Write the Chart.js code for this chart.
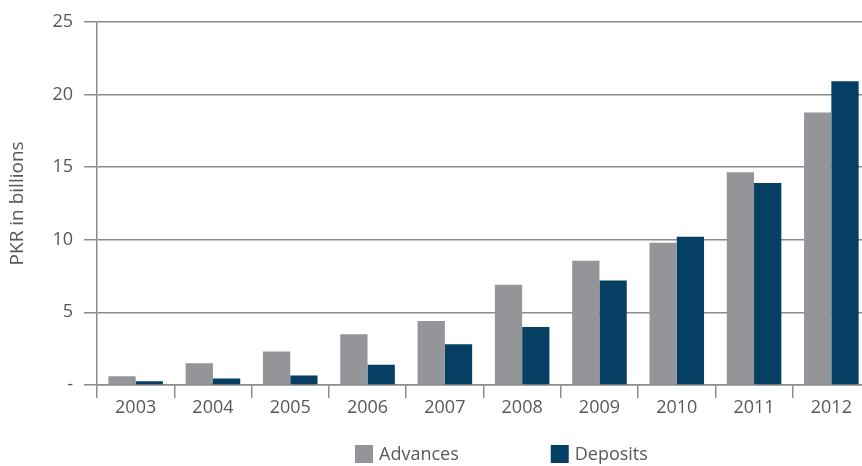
<!DOCTYPE html>
<html>
<head>
<meta charset="utf-8">
<script src="https://cdn.jsdelivr.net/npm/chart.js@4/dist/chart.umd.min.js"></script>
<style>
  html, body { margin: 0; padding: 0; background: #ffffff; overflow: hidden; }
  #wrap { width: 870px; height: 466px; }
</style>
</head>
<body>
<div id="wrap"><canvas id="c" width="870" height="466"></canvas></div>
<script>
// ---- data ----
const years = ['2003', '2004', '2005', '2006', '2007', '2008', '2009', '2010', '2011', '2012'];
const advances = [0.6, 1.5, 2.3, 3.5, 4.4, 6.9, 8.55, 9.8, 14.65, 18.75];
const deposits = [0.25, 0.45, 0.65, 1.4, 2.8, 4.0, 7.2, 10.2, 13.9, 20.9];
const yTicks = [0, 5, 10, 15, 20, 25];
const yTickLabels = ['-', '5', '10', '15', '20', '25'];
const seriesNames = ['Advances', 'Deposits'];
const yTitle = 'PKR in billions';

// ---- styles ----
const GRAY = '#939598';
const NAVY = '#053f64';
const LINE = '#8c8c8c';
const TEXT = '#58595b';
const FONT = "'Open Sans', 'Noto Sans', sans-serif";

const legendPlugin = {
  id: 'bottomLegend',
  afterDraw(chart) {
    const ctx = chart.ctx;
    const box = 18, gap = 6, itemGap = 92;
    const y = 445;
    let x = 355;
    ctx.save();
    ctx.font = '18px ' + FONT;
    ctx.textBaseline = 'middle';
    ctx.textAlign = 'left';
    chart.data.datasets.forEach(ds => {
      ctx.fillStyle = ds.backgroundColor;
      ctx.fillRect(x, y, box, box);
      ctx.fillStyle = TEXT;
      ctx.fillText(ds.label, x + box + gap, y + box / 2 + 1);
      x += box + gap + ctx.measureText(ds.label).width + itemGap;
    });
    ctx.restore();
  }
};

new Chart(document.getElementById('c'), {
  type: 'bar',
  data: {
    labels: years,
    datasets: [
      { label: seriesNames[0], data: advances, backgroundColor: GRAY, borderWidth: 0 },
      { label: seriesNames[1], data: deposits, backgroundColor: NAVY, borderWidth: 0 }
    ]
  },
  options: {
    responsive: false,
    animation: false,
    devicePixelRatio: 1,
    layout: { padding: { top: 14, right: 0, bottom: 41, left: 0 } },
    datasets: { bar: { categoryPercentage: 0.706, barPercentage: 1.0 } },
    plugins: {
      legend: { display: false },
      tooltip: { enabled: false }
    },
    scales: {
      x: {
        offset: true,
        grid: {
          offset: true,
          drawOnChartArea: false,
          drawTicks: true,
          tickLength: 13,
          color: LINE,
          lineWidth: 1.5
        },
        border: { display: true, color: LINE, width: 1.5 },
        ticks: {
          font: { family: FONT, size: 18 },
          color: TEXT,
          padding: -1,
          maxRotation: 0
        },
        afterFit(scale) { scale.height = 40; }
      },
      y: {
        min: 0,
        max: 25,
        afterBuildTicks(scale) { scale.ticks = yTicks.map(v => ({ value: v })); },
        grid: {
          drawTicks: true,
          tickLength: 13,
          color: LINE,
          lineWidth: 1.5
        },
        border: { display: true, color: LINE, width: 1.5 },
        ticks: {
          font: { family: FONT, size: 18 },
          color: TEXT,
          padding: 11,
          callback: (v) => yTickLabels[yTicks.indexOf(v)]
        },
        title: {
          display: true,
          text: yTitle,
          font: { family: FONT, size: 19 },
          color: TEXT,
          padding: { top: 6, bottom: 0 }
        },
        afterFit(scale) { scale.width = 97; }
      }
    }
  },
  plugins: [legendPlugin]
});
</script>
</body>
</html>
